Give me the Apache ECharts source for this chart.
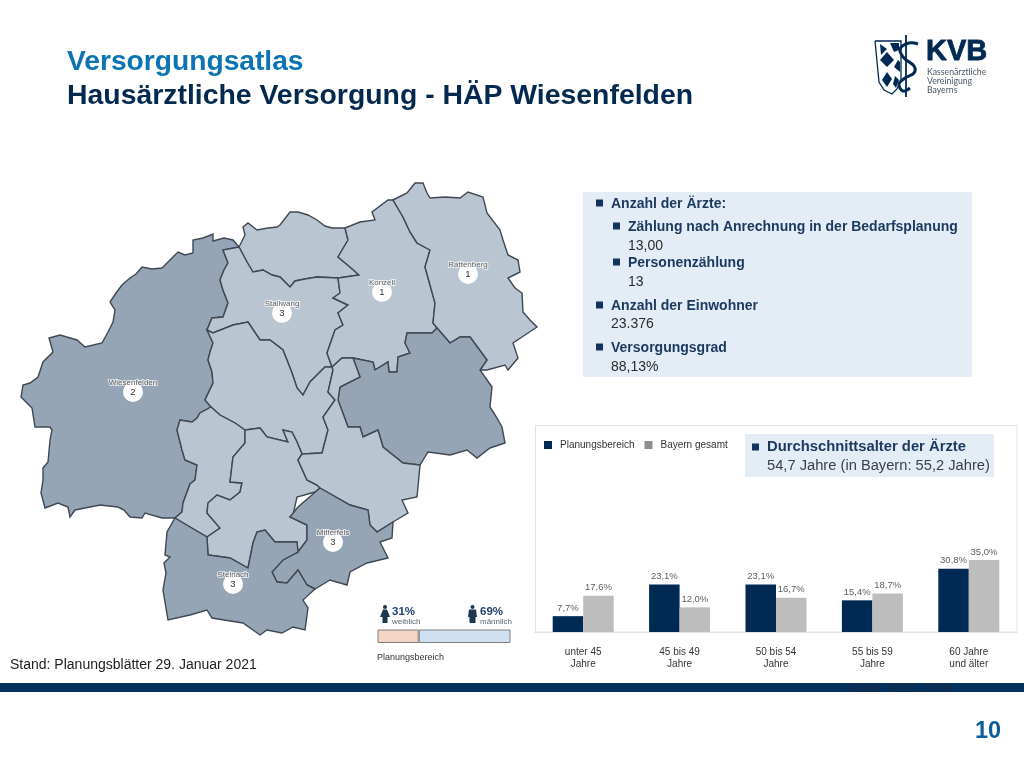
<!DOCTYPE html>
<html>
<head>
<meta charset="utf-8">
<style>
  html, body { margin: 0; padding: 0; background: #fff; }
  #main { width: 1024px; height: 768px; }
</style>
<script src="https://cdn.jsdelivr.net/npm/echarts@6/dist/echarts.min.js"></script>
</head>
<body>
<div id="main"></div>
<script>
// bar chart data
const ageGroups = ['unter 45\nJahre', '45 bis 49\nJahre', '50 bis 54\nJahre', '55 bis 59\nJahre', '60 Jahre\nund älter'];
const planungsbereich = [7.7, 23.1, 23.1, 15.4, 30.8];
const bayernGesamt = [17.6, 12.0, 16.7, 18.7, 35.0];

// gender split
const shareFemale = [31];
const shareMale = [69];

// map labels: name, number of doctors, label anchor
const placeNames = ['Wiesenfelden', 'Stallwang', 'Konzell', 'Rattenberg', 'Mitterfels', 'Steinach'];
const placeCounts = [2, 3, 1, 1, 3, 3];
const placeSpots = [[133, 392], [282, 313], [382, 292], [468, 274], [333, 542], [233, 584]];

const darkRegions = ['Wiesenfelden', 'Ost', 'Mitterfels', 'Steinach'];
const lightRegions = ['Nord', 'Stallwang', 'Konzell', 'Rattenberg', 'Mitte', 'West', 'Sued', 'Suedost'];

// map outline pieces, neighbours share the same piece
const sWC = [[239,247],[223,250],[228,263],[224,270],[220,280],[223,290],[228,303],[223,317],[212,318],[207,330]];
const sWG = [[207,330],[213,343],[210,352],[208,360],[212,372],[213,383],[205,400],[211,407]];
const sWH = [[211,407],[200,413],[197,418],[192,422],[180,420],[177,430],[182,450],[185,460],[197,465],[195,480],[190,484],[183,503],[182,512],[175,518]];
const wOuter = [[175,518],[162,518],[145,513],[142,518],[130,517],[124,510],[118,507],[100,505],[75,510],[70,517],[68,507],[58,503],[45,508],[41,493],[43,480],[43,468],[48,462],[50,440],[52,430],[50,427],[35,427],[32,408],[21,397],[23,385],[30,383],[38,377],[43,362],[53,352],[49,338],[60,335],[77,340],[85,347],[102,343],[108,332],[113,322],[115,310],[110,302],[116,293],[122,285],[130,278],[136,274],[142,267],[152,269],[162,268],[170,260],[178,252],[185,255],[193,253],[193,240],[203,238],[213,234],[213,241],[224,238],[233,240],[239,247]];
const sCB = [[239,247],[247,262],[253,272],[263,270],[272,275],[280,277],[290,287],[295,281],[305,279],[317,277],[338,278]];
const bOuter = [[239,247],[245,235],[243,227],[248,223],[257,230],[268,228],[277,227],[280,225],[290,212],[298,212],[308,215],[317,220],[325,226],[332,228],[345,228]];
const sBD = [[345,228],[348,240],[338,257],[350,267],[359,275],[338,278]];
const sCD = [[338,278],[340,293],[333,298],[348,305],[338,313],[343,325],[335,330],[327,353],[332,367]];
const sGC = [[332,367],[325,367],[310,382],[303,395],[297,388],[292,373],[283,350],[270,340],[260,340],[248,322],[233,325],[213,333],[207,330]];
const dOuter = [[345,228],[360,222],[375,220],[372,212],[388,200],[393,200]];
const sDE = [[393,200],[403,217],[410,232],[417,243],[430,250],[425,267],[430,285],[435,303],[433,323],[437,328]];
const sDF = [[437,328],[432,333],[407,333],[405,343],[410,353],[398,357],[397,372],[389,372],[388,362],[375,370],[373,362],[353,358]];
const sDJ = [[353,358],[342,358],[332,367]];
const eOuter = [[393,200],[407,193],[415,183],[423,183],[427,193],[430,198],[445,197],[460,198],[468,192],[483,197],[487,213],[500,230],[503,240],[508,255],[518,260],[520,272],[508,278],[515,288],[522,293],[523,312],[530,320],[537,327],[525,335],[513,343],[518,358],[508,370],[505,365],[487,370],[480,370]];
const sEF = [[480,370],[487,360],[470,337],[460,337],[450,343],[437,328]];
const sFJ = [[353,358],[360,377],[340,387],[338,400],[348,427],[360,427],[363,437],[378,430],[383,447],[403,463],[420,465]];
const fOuter = [[480,370],[492,387],[490,407],[497,418],[502,427],[505,443],[490,448],[477,458],[467,450],[450,455],[428,452],[420,465]];
const sHG = [[211,407],[220,415],[235,423],[245,430]];
const sGI = [[245,430],[260,428],[267,437],[288,442],[283,430],[292,432],[297,442],[302,454]];
const sGJ = [[302,454],[322,453],[328,430],[323,417],[335,400],[328,392],[333,370],[332,367]];
const sHI = [[245,430],[245,443],[233,457],[230,482],[242,483],[240,492],[230,500],[217,495],[208,503],[207,513],[220,528],[207,537]];
const sHL = [[207,537],[190,527],[175,518]];
const sJI = [[320,488],[317,485],[307,480],[298,460],[302,454]];
const sIK1 = [[320,488],[315,492],[297,497],[293,515],[290,517]];
const sIK2 = [[290,517],[307,525],[307,540],[298,552]];
const sIL = [[298,552],[297,542],[275,542],[265,530],[257,532],[253,543],[248,568],[230,558],[208,555],[207,537]];
const jOuter = [[420,465],[417,497],[402,500],[408,513],[393,522]];
const sJK = [[393,522],[377,532],[370,525],[368,510],[350,505],[320,488]];
const kWest = [[320,488],[298,507],[290,517]];
const sKL = [[298,552],[283,560],[272,572],[277,582],[287,583],[298,570],[307,585],[315,589]];
const kOuter = [[393,522],[392,538],[380,542],[388,558],[367,563],[350,572],[347,585],[330,580],[315,589]];
const lOuter = [[315,589],[303,600],[308,608],[305,630],[293,627],[282,633],[267,630],[260,635],[243,623],[212,618],[207,610],[190,615],[168,620],[163,590],[166,573],[164,563],[170,557],[165,555],[167,532],[175,518]];

const rev = a => a.slice().reverse();
const ring = (...parts) => [].concat(...parts);

const regionRings = {
    Wiesenfelden: ring(sWC, sWG, sWH, wOuter),
    Nord: ring(bOuter, sBD, rev(sCB)),
    Stallwang: ring(sCB, sCD, sGC, rev(sWC)),
    Konzell: ring(dOuter, sDE, sDF, sDJ, rev(sCD), rev(sBD)),
    Rattenberg: ring(eOuter, sEF, rev(sDE)),
    Ost: ring(sFJ, rev(fOuter), sEF, sDF),
    Mitte: ring(sWG, sHG, sGI, sGJ, sGC),
    West: ring(sHG, sHI, sHL, rev(sWH)),
    Sued: ring(sGI, rev(sJI), sIK1, sIK2, sIL, rev(sHI)),
    Suedost: ring(sGJ, rev(sDJ), sFJ, jOuter, sJK, sJI),
    Mitterfels: ring(sJK, kWest, sIK2, sKL, rev(kOuter)),
    Steinach: ring(rev(sHL), rev(sIL), sKL, lOuter)
};

echarts.registerMap('planungsbereich', {
    type: 'FeatureCollection',
    features: Object.keys(regionRings).map(name => ({
        type: 'Feature',
        properties: { name: name },
        geometry: { type: 'Polygon', coordinates: [regionRings[name]] }
    }))
});

const navy = '#002a54';
const boxBlue = '#e4edf6';
const headBlue = '#1c3a60';

const txt = (x, y, text, size, fill, bold, extra) => ({
    type: 'text', x: x, y: y + 0.8, silent: true, z: 20,
    style: Object.assign({
        text: text, fontSize: size, fontFamily: 'Liberation Sans', fill: fill,
        fontWeight: bold ? 'bold' : 'normal', verticalAlign: 'middle'
    }, extra || {})
});
const box = (x, y, w, h, fill, stroke, z) => ({
    type: 'rect', silent: true, z: z === undefined ? 1 : z,
    shape: { x: x, y: y, width: w, height: h },
    style: { fill: fill, stroke: stroke || null, lineWidth: stroke ? 1 : 0 }
});
const poly = (points, fill) => ({ type: 'polygon', silent: true, z: 20, shape: { points: points }, style: { fill: fill } });
const curve = (points, stroke, width, smooth) => ({
    type: 'polyline', silent: true, z: 20,
    shape: { points: points, smooth: smooth || 0 },
    style: { stroke: stroke, lineWidth: width, fill: null }
});
const bullet = (x, y) => box(x, y - 3.5, 7, 7, '#12335a', null, 20);

const womanIcon = (x, y) => [
    { type: 'circle', silent: true, z: 20, shape: { cx: x + 5, cy: y + 2, r: 2 }, style: { fill: '#1c3650' } },
    poly([[x + 3, y + 4.5], [x + 7, y + 4.5], [x + 10, y + 12], [x + 7.5, y + 12], [x + 7.5, y + 18], [x + 2.5, y + 18], [x + 2.5, y + 12], [x, y + 12]], '#1c3650')
];
const manIcon = (x, y) => [
    { type: 'circle', silent: true, z: 20, shape: { cx: x + 4.5, cy: y + 2, r: 2 }, style: { fill: '#1c3650' } },
    poly([[x + 1, y + 4.5], [x + 8, y + 4.5], [x + 9, y + 12], [x + 7.5, y + 12], [x + 7.5, y + 18], [x + 1.5, y + 18], [x + 1.5, y + 12], [x, y + 12]], '#1c3650')
];

// slide furniture
const slideGraphics = [
    txt(67, 61, 'Versorgungsatlas', 28.2, '#0a74b5', true),
    txt(67, 95, 'Hausärztliche Versorgung - HÄP Wiesenfelden', 28.4, '#03294f', true),

    // info box
    box(583, 192, 389, 185, boxBlue),
    bullet(596, 203), txt(611, 203, 'Anzahl der Ärzte:', 14, headBlue, true),
    bullet(613, 226), txt(628, 226, 'Zählung nach Anrechnung in der Bedarfsplanung', 14, headBlue, true),
    txt(628, 245, '13,00', 14, '#2b2b2b'),
    bullet(613, 262), txt(628, 262, 'Personenzählung', 14, headBlue, true),
    txt(628, 281, '13', 14, '#2b2b2b'),
    bullet(596, 305), txt(611, 305, 'Anzahl der Einwohner', 14, headBlue, true),
    txt(611, 323, '23.376', 14, '#2b2b2b'),
    bullet(596, 347), txt(611, 347, 'Versorgungsgrad', 14, headBlue, true),
    txt(611, 366, '88,13%', 14, '#2b2b2b'),

    // frame around bar chart and age box
    box(535.5, 425.5, 481.5, 206.5, '#fff', '#e2e2e2', 0),
    box(745, 434, 249, 43, boxBlue),
    bullet(752, 447), txt(767, 446, 'Durchschnittsalter der Ärzte', 14.8, headBlue, true),
    txt(767, 465.5, '54,7 Jahre (in Bayern: 55,2 Jahre)', 14.7, '#3a3f45'),

    // gender block
    ...womanIcon(380, 605),
    txt(392, 611, shareFemale[0] + '%', 11.5, '#23426e', true),
    txt(392, 621, 'weiblich', 8, '#5c6670'),
    ...manIcon(468, 605),
    txt(480, 611, shareMale[0] + '%', 11.5, '#23426e', true),
    txt(480, 621, 'männlich', 8, '#5c6670'),
    txt(377, 657, 'Planungsbereich', 9, '#333'),

    // footer
    txt(10, 664, 'Stand: Planungsblätter 29. Januar 2021', 14, '#222'),
    box(0, 683, 1024, 9, '#04305f', null, 10),
    txt(848, 688, 'Stand: 30.01.2018', 12.5, '#1b2b40'),
    txt(975, 730.5, '10', 23.5, '#0b5d9c', true),

    // KVB logo
    curve([[875, 41], [901, 41], [901, 80], [897, 89], [892, 94], [884, 90], [879, 82], [875, 41]], navy, 1.3),
    poly([[880, 44], [887, 49], [881, 55]], navy),
    poly([[890, 43], [899, 43], [899, 50], [894, 52]], navy),
    poly([[887, 52], [894, 60], [887, 67], [880, 60]], navy),
    poly([[898, 60], [900, 62], [900, 72], [894, 67]], navy),
    poly([[887, 72], [892, 79], [887, 87], [882, 80]], navy),
    poly([[895, 76], [899, 80], [896, 88], [893, 84]], navy),
    curve([[906, 35], [906, 97]], navy, 1.8),
    curve([[918, 44], [909, 43], [900, 49], [904, 58], [914, 66], [914, 73], [905, 78], [899, 84], [903, 91], [910, 88]], navy, 3, 0.4),
    txt(926, 51.5, 'KVB', 29, navy, true, { stroke: navy, lineWidth: 0.8 }),
    txt(927, 71.5, 'Kassenärztliche', 8.7, '#4a5868', false, { fontFamily: 'Lato' }),
    txt(927, 80.5, 'Vereinigung', 8.7, '#4a5868', false, { fontFamily: 'Lato' }),
    txt(927, 89, 'Bayerns', 8.7, '#4a5868', false, { fontFamily: 'Lato' })
];

const percentLabel = params => params.value.toFixed(1).replace('.', ',') + '%';
const barLabel = {
    show: true, position: 'top', distance: 3, formatter: percentLabel,
    fontSize: 9.5, fontFamily: 'Liberation Sans', color: '#5e5e5e'
};

const myChart = echarts.init(document.getElementById('main'), null, { renderer: 'canvas' });

myChart.setOption({
    animation: false,
    backgroundColor: '#fff',
    textStyle: { fontFamily: 'Liberation Sans' },
    legend: {
        left: 539, top: 435, icon: 'rect', itemWidth: 8, itemHeight: 8, itemGap: 10,
        selectedMode: false,
        textStyle: { fontSize: 10, color: '#333', padding: [0, 0, 0, 3] },
        data: [
            { name: 'Planungsbereich', itemStyle: { color: navy } },
            { name: 'Bayern gesamt', itemStyle: { color: '#8f8f8f' } }
        ]
    },
    grid: [
        { left: 535, width: 482, top: 488, height: 144 },
        { left: 377.5, width: 133, top: 629.5, height: 13.5 }
    ],
    xAxis: [
        {
            gridIndex: 0, type: 'category', data: ageGroups,
            axisLine: { lineStyle: { color: '#e2e2e2' } }, axisTick: { show: false },
            axisLabel: { fontSize: 10, color: '#333', margin: 14, lineHeight: 12, interval: 0 }
        },
        { gridIndex: 1, type: 'value', min: 0, max: 100, show: false }
    ],
    yAxis: [
        { gridIndex: 0, type: 'value', min: 0, max: 70, show: false },
        { gridIndex: 1, type: 'category', data: ['Planungsbereich'], show: false }
    ],
    geo: {
        map: 'planungsbereich',
        projection: { project: p => p, unproject: p => p },
        left: 21, top: 183, width: 516, height: 452,
        roam: false, silent: true,
        itemStyle: { areaColor: '#b9c6d2', borderColor: '#3f4852', borderWidth: 1.4 },
        label: { show: false },
        regions: darkRegions.map(name => ({ name: name, itemStyle: { areaColor: '#95a5b5' } }))
            .concat(lightRegions.map(name => ({ name: name, itemStyle: { areaColor: '#b9c6d2' } })))
    },
    series: [
        {
            name: 'Planungsbereich', type: 'bar', data: planungsbereich, xAxisIndex: 0, yAxisIndex: 0,
            barWidth: 30.5, barGap: 0, itemStyle: { color: navy }, label: barLabel, z: 5
        },
        {
            name: 'Bayern gesamt', type: 'bar', data: bayernGesamt, xAxisIndex: 0, yAxisIndex: 0,
            barWidth: 30.5, barGap: 0, itemStyle: { color: '#bdbdbd' }, label: barLabel, z: 5
        },
        {
            name: 'weiblich', type: 'bar', stack: 'gender', data: shareFemale, xAxisIndex: 1, yAxisIndex: 1,
            barWidth: 13.5, itemStyle: { color: '#f3d4c5', borderColor: '#7d7d7d', borderWidth: 1 }
        },
        {
            name: 'männlich', type: 'bar', stack: 'gender', data: shareMale, xAxisIndex: 1, yAxisIndex: 1,
            barWidth: 13.5, itemStyle: { color: '#d0e0f0', borderColor: '#7d7d7d', borderWidth: 1 }
        },
        {
            // white discs with doctor count
            name: 'count', type: 'scatter', coordinateSystem: 'geo', silent: true, z: 6,
            symbol: 'circle', symbolSize: 20,
            itemStyle: { color: '#fff', opacity: 1 },
            label: { show: true, position: 'inside', formatter: p => p.value[2], fontSize: 9.5, color: '#333' },
            data: placeSpots.map((spot, i) => [spot[0], spot[1], placeCounts[i]])
        },
        {
            // place names above the discs
            name: 'place', type: 'scatter', coordinateSystem: 'geo', silent: true, z: 7,
            symbolSize: 0,
            label: {
                show: true, position: 'top', distance: 5, formatter: p => p.value[2],
                fontSize: 8, color: '#3c3c3c', textBorderColor: 'rgba(255,255,255,0.85)', textBorderWidth: 2
            },
            data: placeSpots.map((spot, i) => [spot[0], spot[1], placeNames[i]])
        }
    ],
    graphic: slideGraphics
});

window.onresize = () => {
    myChart.resize();
};
</script>
</body>
</html>
